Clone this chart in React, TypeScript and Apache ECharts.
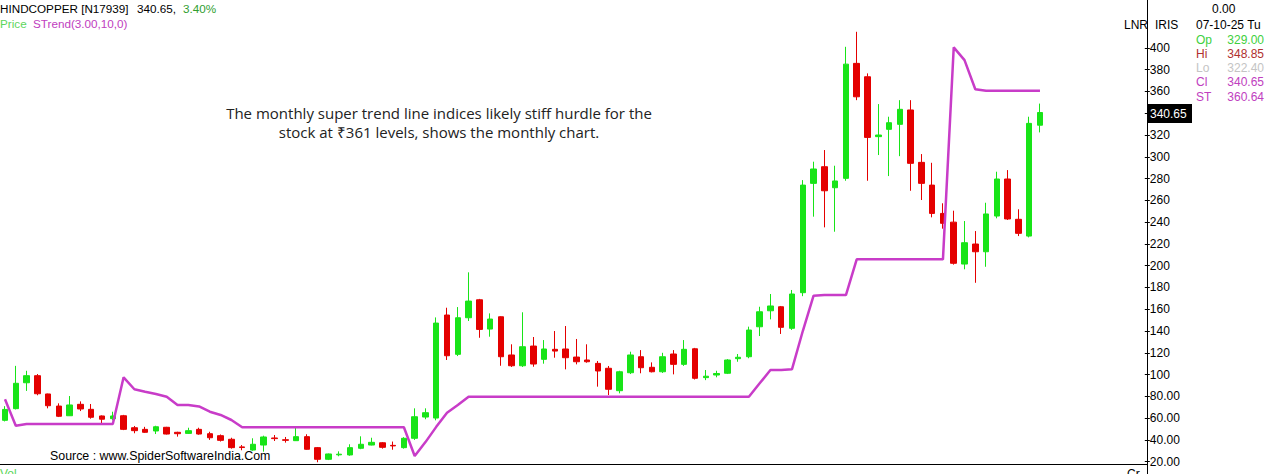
import React, { useEffect, useRef } from "react";
import * as echarts from "echarts";

// Monthly candles, Oct-17 .. Oct-25
const months = [
  "Oct-17", "Nov-17", "Dec-17",
  "Jan-18", "Feb-18", "Mar-18", "Apr-18", "May-18", "Jun-18", "Jul-18", "Aug-18", "Sep-18", "Oct-18", "Nov-18", "Dec-18",
  "Jan-19", "Feb-19", "Mar-19", "Apr-19", "May-19", "Jun-19", "Jul-19", "Aug-19", "Sep-19", "Oct-19", "Nov-19", "Dec-19",
  "Jan-20", "Feb-20", "Mar-20", "Apr-20", "May-20", "Jun-20", "Jul-20", "Aug-20", "Sep-20", "Oct-20", "Nov-20", "Dec-20",
  "Jan-21", "Feb-21", "Mar-21", "Apr-21", "May-21", "Jun-21", "Jul-21", "Aug-21", "Sep-21", "Oct-21", "Nov-21", "Dec-21",
  "Jan-22", "Feb-22", "Mar-22", "Apr-22", "May-22", "Jun-22", "Jul-22", "Aug-22", "Sep-22", "Oct-22", "Nov-22", "Dec-22",
  "Jan-23", "Feb-23", "Mar-23", "Apr-23", "May-23", "Jun-23", "Jul-23", "Aug-23", "Sep-23", "Oct-23", "Nov-23", "Dec-23",
  "Jan-24", "Feb-24", "Mar-24", "Apr-24", "May-24", "Jun-24", "Jul-24", "Aug-24", "Sep-24", "Oct-24", "Nov-24", "Dec-24",
  "Jan-25", "Feb-25", "Mar-25", "Apr-25", "May-25", "Jun-25", "Jul-25", "Aug-25", "Sep-25", "Oct-25",
];
// empty future slots to the right of the last candle
const futureMonths = ["Nov-25", "Dec-25", "Jan-26", "Feb-26", "Mar-26", "Apr-26", "May-26", "Jun-26", "Jul-26"];

const opens = [
  58, 68.7, 92.5, 99, 82.2, 71.1, 62.2, 72.7, 68.1, 62, 59.5,
  62.2, 51.2, 49.7, 48.2, 51.6, 47, 46, 49.7, 45.7, 43.9, 40.6,
  33.6, 30.7, 35.3, 41.8, 40.2, 39.3, 43, 32.9, 22.2, 26.3, 26.2, 32.3, 35.3, 37.4, 35, 32.9,
  41.5, 61, 60.1, 154.7, 118.6,
  152.2, 168.7, 141.8, 153.1, 118, 108.1, 126.2, 114, 123.2, 123.5, 116.1, 113.4, 110.3, 105.8, 85.2,
  101.7, 116.4, 106.7, 102.6, 118.9, 109.4, 123.7, 97.2, 99.6, 101.2, 114.6, 116.4,
  143.9, 158.6, 162.3, 142.5, 175.2, 275.6, 290.9, 271.6, 280.2,
  385.8, 373.5, 318.5, 325.2, 329.8, 343, 294.9, 274, 248,
  240, 201.5, 219.9,
  212.8, 245.6, 279.6, 242.6, 227.2, 329,
];
const highs = [
  71, 108, 103.5, 100.5, 82.5, 73.6, 80.3, 75.4, 73, 62.5, 65.9,
  63, 52.8, 52, 53, 52, 47.5, 51.2, 51.2, 47.5, 45, 42,
  35.3, 41.5, 43.9, 44.5, 42.7, 51.2, 45.2, 33.5, 27.5, 29.5, 36, 43.3, 42, 38, 38.5, 42.5,
  69, 69, 152.5, 161.4, 162,
  193.9, 169.5, 156.2, 153.5, 127.8, 157.2, 134.5, 131.7, 140, 144.6, 132.7, 127.8, 112.5, 107.9, 103.5,
  121, 122.5, 111.2, 120, 122.5, 131.7, 124.5, 104.2, 103.5, 114.2, 118.9, 144,
  162.3, 174, 163, 177.7, 278.6, 295.5, 306.2, 291.8, 401,
  414.8, 376.6, 348.4, 336.8, 352, 352, 302.5, 294.5, 257.3,
  250.5, 241, 231.8,
  257.8, 286.3, 287.8, 251.8, 336.8, 348.85,
];
const lows = [
  57, 68, 85, 81, 69, 61, 62, 66.5, 59.5, 53.7, 58,
  49, 46.1, 46.5, 45.4, 45, 43, 45.5, 44.8, 40, 38.5, 32,
  30.5, 30, 29.2, 39, 37.5, 39, 31, 19.5, 21.5, 25, 25.5, 31.5, 35, 32, 31, 32,
  40, 59, 58, 113.4, 117,
  149.2, 133.8, 134.8, 108.1, 107, 107, 107.2, 110, 115.5, 104.8, 109.4, 110.9, 88.9, 81.2, 82.8,
  100.5, 101.2, 102, 101.5, 100.2, 108, 95.5, 94.9, 97.5, 100.5, 111.8, 115,
  135.4, 150.7, 137.3, 141, 172, 245, 235.2, 231.2, 278,
  352, 278, 301.6, 282.3, 300.6, 268.8, 260.3, 244.4, 234,
  201, 196.7, 184.3,
  199, 243.5, 242, 227.2, 226, 322.4,
];
const closes = [
  68, 92, 99, 82.4, 71.4, 61.7, 72.1, 68.4, 60.8, 59, 62,
  49.7, 48.5, 47, 52.1, 45.4, 45.7, 48.5, 45.4, 42, 39.6, 32.9,
  33, 36, 42.7, 41.2, 39.6, 43, 31.4, 22.2, 27.1, 26.9, 32.9, 36, 37.8, 33.2, 34.5, 41.5,
  61.3, 65, 147.3, 117.3, 152.2,
  167.5, 141.5, 151, 116.4, 108.1, 125.6, 109.7, 123.5, 121.6, 115.5, 111.8, 111.8, 103.3, 86.5, 102.6,
  118, 106.3, 102.6, 116.4, 109.4, 123.2, 96.6, 98.5, 101, 113.4, 115.9, 140.9,
  157.7, 163, 143.4, 174, 274, 288.8, 268.8, 277.8, 385.1,
  355.1, 317.8, 320, 331.3, 343.6, 294, 275.6, 248, 238.9,
  202.2, 221.1, 212.8,
  247.5, 279.6, 242.9, 229.7, 330.7, 340.65,
];
// SuperTrend(3, 10) values
const superTrend = [
  77.3, 53, 54.6, 54.6, 54.6, 54.6, 54.6, 54.6, 54.6, 54.6, 54.6,
  97.5, 86.5, 84.3, 82.2, 79.7, 72.1, 72.1, 70.7, 65.9, 62.9, 58.3,
  51.6, 51.6, 51.6, 51.6, 51.6, 51.6, 51.6, 51.6, 51.6, 51.6, 51.6, 51.6, 51.6, 51.6, 51.6, 51.6,
  25.2, 38, 52, 65, 72,
  79.7, 79.7, 79.7, 79.7, 79.7, 79.7, 79.7, 79.7, 79.7, 79.7, 79.7, 79.7, 79.7, 79.7, 79.7,
  79.7, 79.7, 79.7, 79.7, 79.7, 79.7, 79.7, 79.7, 79.7, 79.7, 79.7, 79.7,
  92, 104.2, 104.2, 105, 140, 172.5, 173, 173, 173,
  205.8, 205.8, 205.8, 205.8, 205.8, 205.8, 205.8, 205.8, 205.8,
  400.5, 388.8, 362,
  360.64, 360.64, 360.64, 360.64, 360.64, 360.64,
];

const yTicks = { min: 20, max: 400, step: 20 };
const lastPrice = 340.65;

const GREEN = "#18e418";
const RED = "#e40000";
const MAGENTA = "#c83cc8";
const FONT = '"Liberation Sans", Arial, sans-serif';

export default function App() {
  const ref = useRef<HTMLDivElement>(null);
  useEffect(() => {
    if (!ref.current) return;
    const chart = echarts.init(ref.current, null, { renderer: "svg" });
    const categories = [...months, ...futureMonths];
    const candleData = opens.map((o, i) => [o, closes[i], lows[i], highs[i]]);
    const t = (text: string, x: number, y: number, fill: string, size = 12, align = "left", extra: any = {}) => ({
      type: "text",
      x,
      y,
      z: 100,
      silent: true,
      style: { text, fill, font: `${size}px ${FONT}`, align, verticalAlign: "middle", ...extra },
    });
    const option: any = {
      animation: false,
      backgroundColor: "#ffffff",
      grid: { left: -0.39, right: 123.6, top: 47.9, bottom: 12.3, outerBoundsMode: "none", containLabel: false },
      xAxis: { type: "category", data: categories, show: false, boundaryGap: true },
      yAxis: {
        type: "value",
        position: "right",
        min: yTicks.min,
        max: yTicks.max,
        interval: yTicks.step,
        offset: 2.4,
        axisLine: { show: false },
        axisTick: { show: true, length: 5, lineStyle: { color: "#000", width: 1 } },
        axisLabel: {
          margin: 5,
          color: "#000",
          fontSize: 12,
          fontFamily: FONT,
          // the 340 label sits under the last-price box
          formatter: (v: number) => (Math.abs(v - lastPrice) < 8 ? "" : v >= 100 ? String(v) : v.toFixed(2)),
        },
        splitLine: { show: false },
      },
      series: [
        {
          type: "candlestick",
          data: candleData,
          barWidth: 6,
          clip: false,
          itemStyle: { color: GREEN, color0: RED, borderColor: GREEN, borderColor0: RED, borderWidth: 1 },
          z: 2,
        },
        {
          type: "line",
          data: superTrend,
          symbol: "none",
          clip: false,
          lineStyle: { color: MAGENTA, width: 2.5 },
          z: 3,
        },
      ],
      graphic: {
        elements: [
          { type: "line", silent: true, z: 90, shape: { x1: 1147.5, y1: 0, x2: 1147.5, y2: 474 }, style: { stroke: "#000", lineWidth: 1 } },
          { type: "line", silent: true, z: 90, shape: { x1: 0, y1: 464.5, x2: 1147.5, y2: 464.5 }, style: { stroke: "#000", lineWidth: 1 } },
          t("HINDCOPPER [N17939]", 0, 8.5, "#000", 11.7),
          t("340.65,", 137, 8.5, "#000", 11.7),
          t("3.40%", 183, 8.5, "#2f9e2f", 11.7),
          t("Price", 0, 23.5, "#5cd65c", 11.7),
          t("STrend(3.00,10,0)", 33, 23.5, "#c040c0", 11.7),
          t("LNR", 1124, 24.5, "#000"),
          t("IRIS", 1155, 24.5, "#000"),
          t("0.00", 1212, 9, "#000"),
          t("07-10-25 Tu", 1196, 24.5, "#000"),
          t("Op", 1196, 39.5, "#40d040"),
          t("329.00", 1264, 39.5, "#40d040", 12, "right"),
          t("Hi", 1196, 53.8, "#b03030"),
          t("348.85", 1264, 53.8, "#b03030", 12, "right"),
          t("Lo", 1196, 68, "#c4c4c4"),
          t("322.40", 1264, 68, "#c4c4c4", 12, "right"),
          t("Cl", 1196, 82.3, "#c040c0"),
          t("340.65", 1264, 82.3, "#c040c0", 12, "right"),
          t("ST", 1196, 96.6, "#c040c0"),
          t("360.64", 1264, 96.6, "#c040c0", 12, "right"),
          { type: "rect", silent: true, z: 99, shape: { x: 1148, y: 104, width: 44, height: 19 }, style: { fill: "#000" } },
          t("340.65", 1150, 113.5, "#fff"),
          {
            type: "text",
            silent: true,
            z: 100,
            x: 439,
            y: 113,
            style: {
              text: "The monthly super trend line indices likely stiff hurdle for the",
              fill: "#222",
              font: '15px "Open Sans", sans-serif',
              align: "center",
              verticalAlign: "middle",
            },
          },
          {
            type: "text",
            silent: true,
            z: 100,
            x: 439,
            y: 132,
            style: {
              text: "stock at ₹361 levels, shows the monthly chart.",
              fill: "#222",
              font: '15px "Open Sans", sans-serif',
              align: "center",
              verticalAlign: "middle",
            },
          },
          t("Source : www.SpiderSoftwareIndia.Com", 50, 456, "#000", 12.4),
          t("Vol", 0, 474, "#5cd65c"),
          t("Cr", 1127, 474, "#000"),
        ],
      },
    };
    chart.setOption(option);
    return () => chart.dispose();
  }, []);
  return (
    <div
      ref={ref}
      style={{ position: "fixed", left: 0, top: 0, width: 1266, height: 474, background: "#fff" }}
    />
  );
}
